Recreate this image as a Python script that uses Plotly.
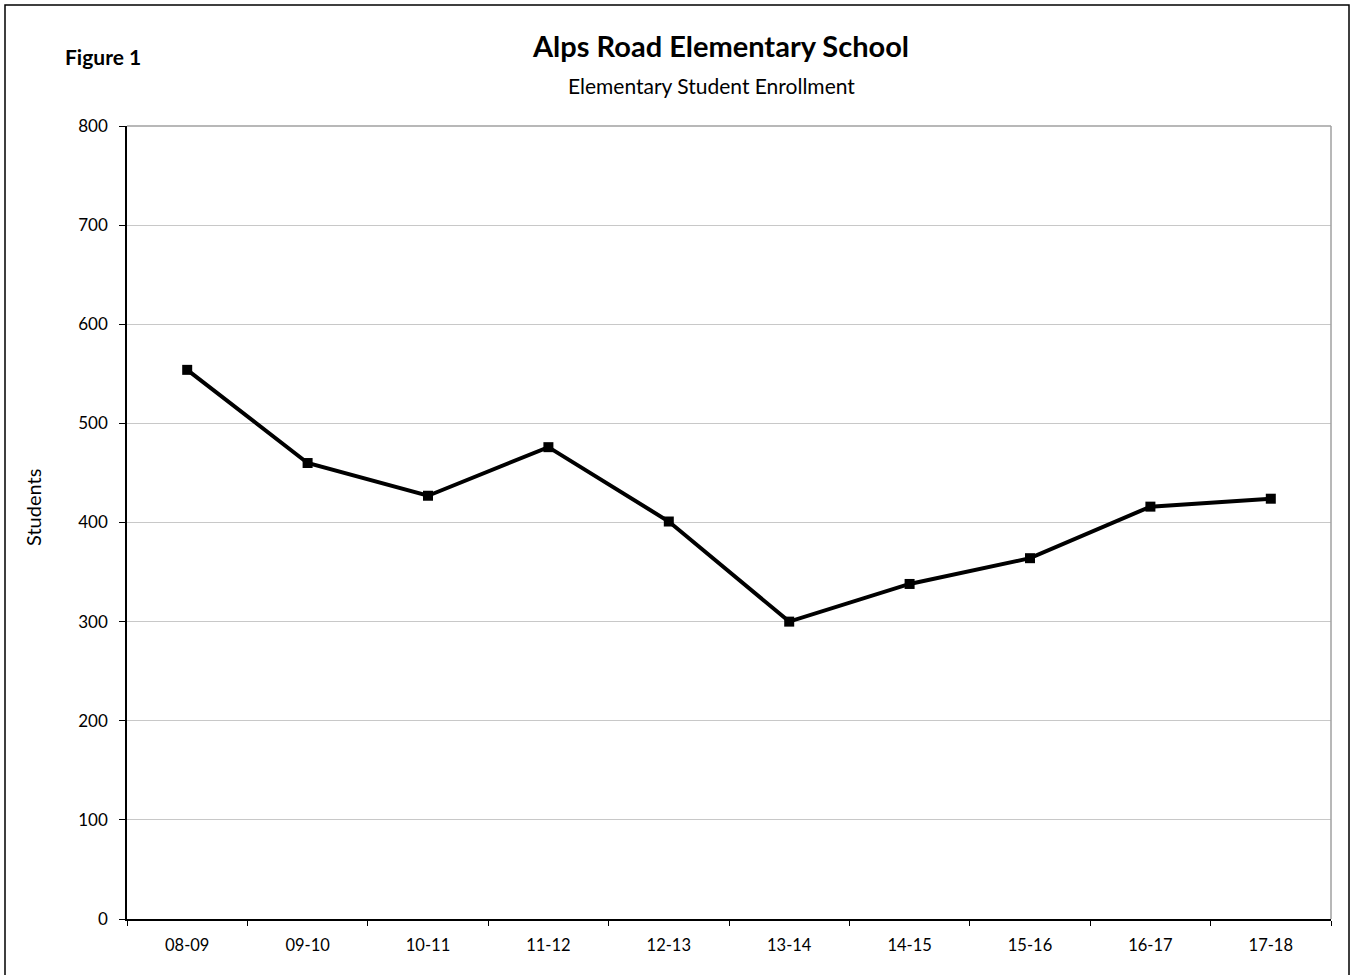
import plotly.graph_objects as go

# Dati
anni = ["08-09", "09-10", "10-11", "11-12", "12-13",
        "13-14", "14-15", "15-16", "16-17", "17-18"]
studenti = [554, 460, 427, 476, 401, 300, 338, 364, 416, 424]
y_ticks = [0, 100, 200, 300, 400, 500, 600, 700, 800]

W, H = 1351, 975
L, R, T, B = 127, 20, 126, 56
pw, ph = W - L - R, H - T - B


def px_x(x):
    return (x - L) / pw


def px_y(y):
    return (H - B - y) / ph


FONT = "Lato, 'Open Sans', sans-serif"

fig = go.Figure()
fig.add_trace(go.Scatter(
    x=anni, y=studenti, mode="lines+markers",
    line=dict(color="black", width=4),
    marker=dict(symbol="square", size=10, color="black"),
    showlegend=False, cliponaxis=False,
))

fig.update_layout(
    width=W, height=H,
    margin=dict(l=L, r=R, t=T, b=B),
    paper_bgcolor="white", plot_bgcolor="white",
    font=dict(family=FONT, size=16, color="black"),
    xaxis=dict(
        type="category", range=[-0.5, 9.5],
        showline=True, linecolor="black", linewidth=1.5,
        ticks="outside", tickson="boundaries", ticklen=5,
        tickcolor="black", showgrid=False, zeroline=False,
        tickfont=dict(size=16.5), ticklabelstandoff=10,
    ),
    yaxis=dict(
        range=[0, 800], tickvals=y_ticks,
        showline=True, linecolor="black", linewidth=1.5,
        ticks="outside", ticklen=6, tickcolor="black",
        gridcolor="#C8C8C8", gridwidth=1, zeroline=False,
        tickfont=dict(size=17), ticklabelstandoff=8,
    ),
    shapes=[
        # bordo superiore e destro dell'area del grafico
        dict(type="line", xref="paper", yref="paper",
             x0=0, x1=1, y0=1, y1=1,
             line=dict(color="#A0A0A0", width=1.5)),
        dict(type="line", xref="paper", yref="paper",
             x0=1, x1=1, y0=0, y1=1,
             line=dict(color="#A0A0A0", width=1.5)),
        # cornice esterna
        dict(type="rect", xref="paper", yref="paper",
             x0=px_x(5), x1=px_x(1349), y0=px_y(5), y1=px_y(985),
             line=dict(color="black", width=1.5), layer="below"),
    ],
    annotations=[
        dict(text="<b>Alps Road Elementary School</b>", xref="paper", yref="paper",
             x=px_x(720), y=px_y(45), showarrow=False,
             xanchor="center", yanchor="middle", font=dict(size=29)),
        dict(text="Elementary Student Enrollment", xref="paper", yref="paper",
             x=px_x(711), y=px_y(86), showarrow=False,
             xanchor="center", yanchor="middle", font=dict(size=21)),
        dict(text="<b>Figure 1</b>", xref="paper", yref="paper",
             x=px_x(63), y=px_y(57), showarrow=False,
             xanchor="left", yanchor="middle", font=dict(size=21)),
        dict(text="Students", xref="paper", yref="paper",
             x=px_x(33), y=px_y(508), showarrow=False, textangle=-90,
             xanchor="center", yanchor="middle", font=dict(size=20)),
    ],
)

# togliamo il margine del body per allineare il grafico alla finestra
fig.write_html("out.html", config={"displayModeBar": False},
               post_script="document.body.style.margin='0';")
